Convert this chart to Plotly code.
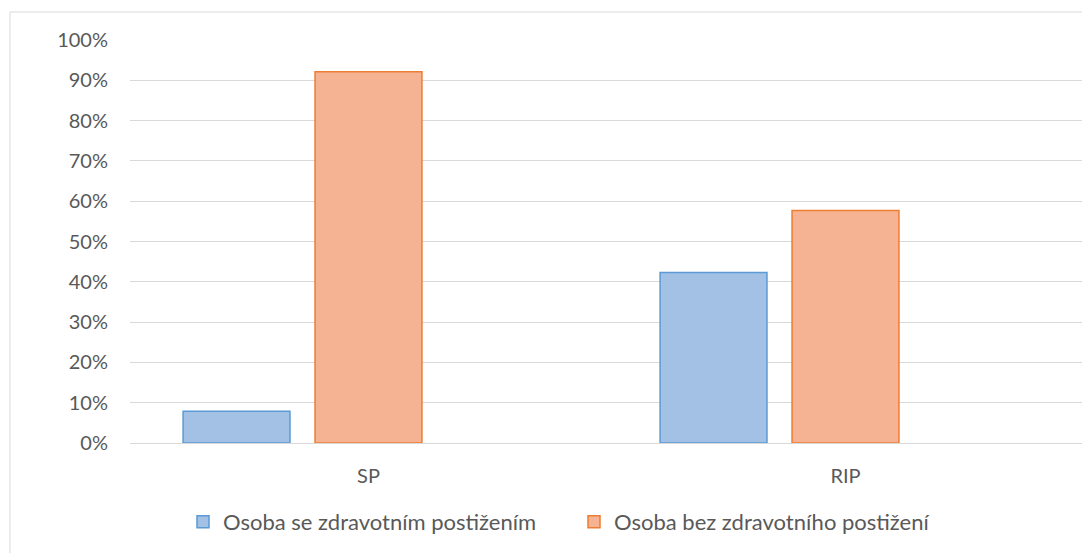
import plotly.graph_objects as go

categories = ["SP", "RIP"]
with_disability = [0.079, 0.423]
without_disability = [0.921, 0.577]
spacer_series = [0, 0]
series_names = ["Osoba se zdravotním postižením", "Osoba bez zdravotního postižení"]
y_ticks = [i / 10 for i in range(11)]
y_tick_labels = [f"{i*10}%" for i in range(11)]

# page body has an 8px margin, so the figure is sized to fill the rest of the window
W, H = 1082, 545
L, R, T, B = 122, 6, 32, 110
pw, ph = W - L - R, H - T - B

text_color = "#595959"
font_family = "Lato, Open Sans, sans-serif"

fig = go.Figure()
fig.add_trace(go.Bar(
    x=categories, y=with_disability, name=series_names[0],
    marker=dict(color="#a3c0e5", line=dict(color="#5b9bd5", width=1.5)),
))
fig.add_trace(go.Bar(
    x=categories, y=without_disability, name=series_names[1],
    marker=dict(color="#f6b393", line=dict(color="#ed7d31", width=1.5)),
))
fig.add_trace(go.Bar(
    x=categories, y=spacer_series, showlegend=False, hoverinfo="skip",
    marker=dict(color="rgba(0,0,0,0)", line=dict(width=0)),
))

# outer chart-area border
x0 = (2 - L) / pw
x1 = (W + 5 - L) / pw
y1 = 1 + (T - 4) / ph
y0 = -(H + 5 - (T + ph)) / ph
fig.add_shape(type="rect", xref="paper", yref="paper", x0=x0, x1=x1, y0=y0, y1=y1,
              line=dict(color="#d9d9d9", width=1), fillcolor="rgba(0,0,0,0)", layer="below")

fig.update_layout(
    width=W, height=H,
    margin=dict(l=L, r=R, t=T, b=B),
    paper_bgcolor="white", plot_bgcolor="white",
    barmode="group", bargap=0.17, bargroupgap=0.19,
    font=dict(family=font_family, size=20, color=text_color),
    legend=dict(orientation="h", xref="container", yref="container",
                x=175 / W, xanchor="left", y=1 - 514 / H, yanchor="middle",
                font=dict(size=22, color=text_color), itemwidth=30,
                entrywidth=346,
                bgcolor="rgba(0,0,0,0)"),
    showlegend=True,
)
fig.update_yaxes(range=[0, 1], tickvals=y_ticks, ticktext=y_tick_labels,
                 showgrid=True, gridcolor="#d9d9d9", gridwidth=1,
                 zeroline=True, zerolinecolor="#d9d9d9", zerolinewidth=1,
                 showline=False, ticks="", ticklabelstandoff=21,
                 tickfont=dict(size=20, color=text_color))
fig.update_xaxes(showgrid=False, showline=False, ticks="", ticklabelstandoff=19,
                 tickfont=dict(size=20, color=text_color))

fig.write_html("out.html")
